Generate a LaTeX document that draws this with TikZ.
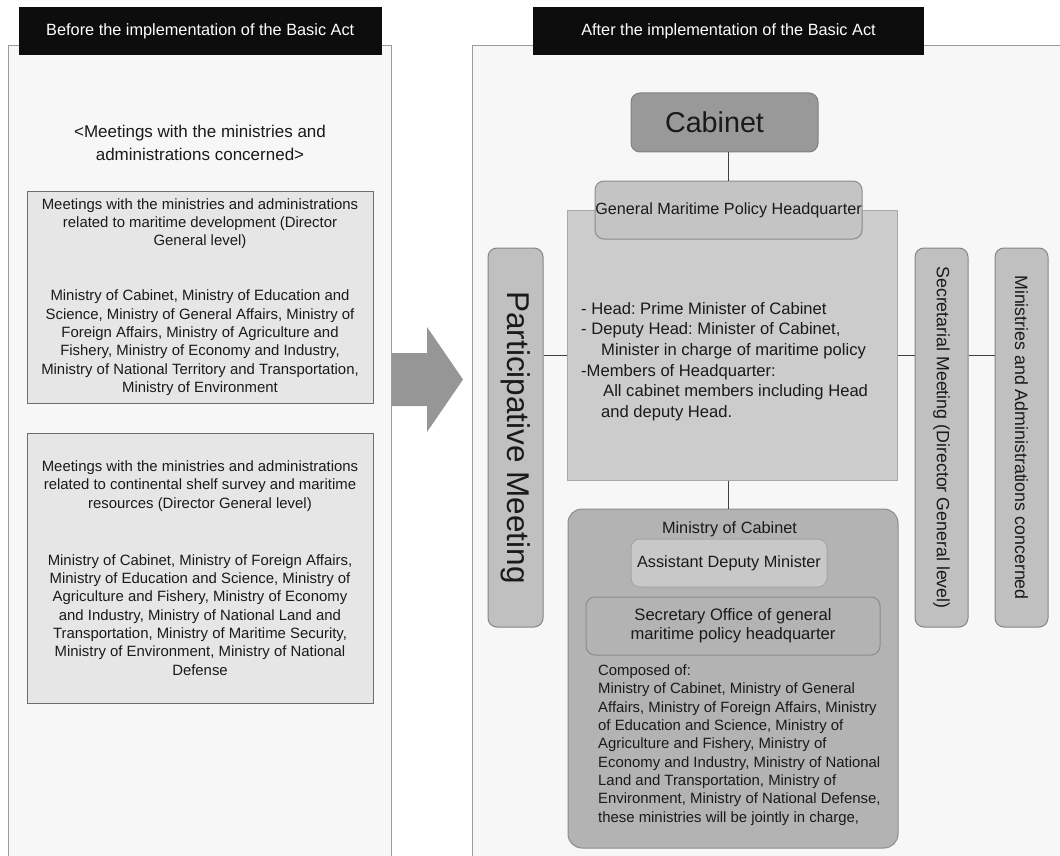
\documentclass[tikz,border=0pt]{standalone}
\usepackage{fontspec}
\setmainfont{Liberation Sans}
\usepackage{graphicx}
\usetikzlibrary{shapes,arrows}
\frenchspacing

\newcommand{\setfs}[2]{\fontsize{#1}{#2}\selectfont}

\definecolor{panelfill}{HTML}{F7F7F7}
\definecolor{panelline}{HTML}{9A9A9A}
\definecolor{headblack}{HTML}{0D0D0D}
\definecolor{oldfill}{HTML}{E6E6E6}
\definecolor{oldline}{HTML}{6E6E6E}
\definecolor{cabfill}{HTML}{999999}
\definecolor{cabline}{HTML}{808080}
\definecolor{gmphfill}{HTML}{C4C4C4}
\definecolor{gmphline}{HTML}{8C8C8C}
\definecolor{hqfill}{HTML}{CCCCCC}
\definecolor{hqline}{HTML}{A9A9A9}
\definecolor{sidefill}{HTML}{C0C0C0}
\definecolor{sideline}{HTML}{858585}
\definecolor{mocfill}{HTML}{B3B3B3}
\definecolor{mocline}{HTML}{8C8C8C}
\definecolor{adfill}{HTML}{C8C8C8}
\definecolor{adline}{HTML}{A5A5A5}
\definecolor{arrowfill}{HTML}{969696}
\definecolor{linkline}{HTML}{404040}
\definecolor{textcol}{HTML}{1A1A1A}

\begin{document}
\begin{tikzpicture}[x=1pt,y=1pt,yscale=-1,xscale=1,
    txt/.style={inner sep=0pt, text=textcol},
    panel/.style={draw=panelline, fill=panelfill, line width=1pt},
    headbar/.style={fill=headblack, text=white, inner sep=0pt, minimum height=47.5pt, font=\setfs{16.3}{19}},
    oldbox/.style={draw=oldline, fill=oldfill, line width=1pt, inner sep=0pt, align=center, text=textcol, minimum width=346pt, font=\setfs{14.9}{18.3}},
    roundbox/.style={rounded corners=9pt, line width=1pt, inner sep=0pt, text=textcol},
    sidebox/.style={roundbox, draw=sideline, fill=sidefill, minimum height=379pt},
    link/.style={draw=linkline, line width=1pt}
  ]
    \useasboundingbox (0,0) rectangle (1060,856);
    \clip (0,0) rectangle (1060,856);
    \fill[white] (0,0) rectangle (1060,856);

    %Shape: Rectangle [left panel]
    \draw[panel] (8.5,45.5) rectangle (391.5,870);
    %Shape: Rectangle [right panel]
    \draw[panel] (472,45.5) rectangle (1070,870);

    % Header bars
    \node[headbar, minimum width=363.5pt] (beforebar) at (200.25,31.25) {Before the implementation of the Basic Act};
    \node[headbar, minimum width=391pt] (afterbar) at (728.5,31.25) {After the implementation of the Basic Act};

    % Text Node
    \node[txt, align=center, font=\setfs{17}{23}] (concerned) at (200,142.5) {\textless Meetings with the ministries and\\administrations concerned\textgreater};

    % old meetings
    \node[oldbox, minimum height=212pt] (devmeet) at (200,297) {Meetings with the ministries and administrations\\
      related to maritime development (Director\\
      General level)\\[36.7pt]
      Ministry of Cabinet, Ministry of Education and\\
      Science, Ministry of General Affairs, Ministry of\\
      Foreign Affairs, Ministry of Agriculture and\\
      Fishery, Ministry of Economy and Industry,\\
      Ministry of National Territory and Transportation,\\
      Ministry of Environment};
    \node[oldbox, minimum height=270pt] (shelfmeet) at (200,568) {Meetings with the ministries and administrations\\
      related to continental shelf survey and maritime\\
      resources (Director General level)\\[38.7pt]
      Ministry of Cabinet, Ministry of Foreign Affairs,\\
      Ministry of Education and Science, Ministry of\\
      Agriculture and Fishery, Ministry of Economy\\
      and Industry, Ministry of National Land and\\
      Transportation, Ministry of Maritime Security,\\
      Ministry of Environment, Ministry of National\\
      Defense};

    %Shape: Right Arrow
    \fill[arrowfill] (392,353) -- (427,353) -- (427,327) -- (463,379.5) -- (427,432) -- (427,406) -- (392,406) -- cycle;

    % headquarter
    \node[draw=hqline, fill=hqfill, line width=1pt, minimum width=330pt, minimum height=270pt, inner sep=0pt] (hq) at (732,345) {};
    \node[roundbox, draw=gmphline, fill=gmphfill, minimum width=267pt, minimum height=58pt, font=\setfs{16.2}{19}] (gmph) at (728.5,210) {General Maritime Policy Headquarter};
    \node[roundbox, draw=cabline, fill=cabfill, minimum width=187pt, minimum height=59pt, font=\setfs{28.7}{32}] (cabinet) at (724.5,122.5) {Cabinet\hspace*{20pt}};
    \node[txt, align=left, anchor=west, font=\setfs{16.6}{20.7}] (hqtext) at (581,361.5) {- Head: Prime Minister of Cabinet\\
      - Deputy Head: Minister of Cabinet,\\
      \hspace*{20pt}Minister in charge of maritime policy\\
      -Members of Headquarter:\\
      \hspace*{22pt}All cabinet members including Head\\
      \hspace*{20pt}and deputy Head.};
    \coordinate (midline) at (732,355);

    % side meetings
    \node[sidebox, minimum width=55pt, font=\setfs{31.5}{32}] (partmeet) at (515.5,437.5) {\rotatebox{-90}{Participative Meeting}};
    \node[sidebox, minimum width=53pt, font=\setfs{17.8}{18}] (secmeet) at (941.5,437.5) {\rotatebox{-90}{Secretarial Meeting (Director General level)}};
    \node[sidebox, minimum width=53pt, font=\setfs{17.8}{18}] (ministries) at (1021.5,437.5) {\rotatebox{-90}{Ministries and Administrations concerned}};

    % ministry of cabinet
    \node[roundbox, rounded corners=14pt, draw=mocline, fill=mocfill, minimum width=330pt, minimum height=339pt] (moc) at (733,678.5) {};
    \node[txt, font=\setfs{16.3}{19}] (moctitle) at (729.5,529) {Ministry of Cabinet};
    \node[roundbox, draw=adline, fill=adfill, minimum width=196pt, minimum height=48pt, font=\setfs{16.3}{19}] (deputy) at (729,563) {Assistant Deputy Minister};
    \node[roundbox, draw=mocline, fill=mocfill, minimum width=294pt, minimum height=58pt, align=center, font=\setfs{16.6}{19.3}] (secoffice) at (733,626) {Secretary Office of general\\maritime policy headquarter};
    \node[txt, align=left, anchor=west, font=\setfs{14.9}{18.3}] (composed) at (598,745) {Composed of:\\
      Ministry of Cabinet, Ministry of General\\
      Affairs, Ministry of Foreign Affairs, Ministry\\
      of Education and Science, Ministry of\\
      Agriculture and Fishery, Ministry of\\
      Economy and Industry, Ministry of National\\
      Land and Transportation, Ministry of\\
      Environment, Ministry of National Defense,\\
      these ministries will be jointly in charge,};

    % connectors
    \draw[link] (cabinet.south -| gmph.north) -- (gmph.north);
    \draw[link] (hq.south -| gmph.north) -- (moc.north -| gmph.north);
    \draw[link] (partmeet.east |- midline) -- (hq.west |- midline);
    \draw[link] (hq.east |- midline) -- (secmeet.west |- midline);
    \draw[link] (secmeet.east |- midline) -- (ministries.west |- midline);
\end{tikzpicture}
\end{document}
